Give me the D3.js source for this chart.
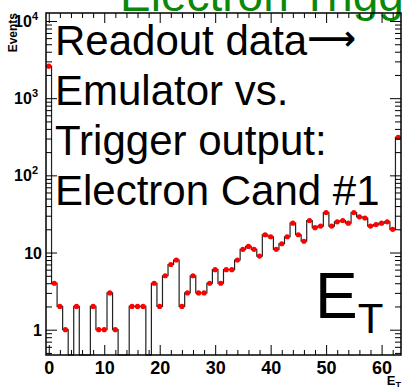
<!DOCTYPE html>
<html>
<head>
<meta charset="utf-8">
<script src="https://cdn.jsdelivr.net/npm/d3@7"></script>
<style>
    body { margin: 0; background: #fff; }
    text { font-family: "Liberation Sans", Arial, Helvetica, sans-serif; }
</style>
</head>
<body>
<div class="graph"></div>
<script>
// Contenido de cada bin de E_T (bins 0..63)
const cuentas = [2600, 4, 2, 1, 0, 2, 0, 0, 2, 1,
    1, 3, 1, 0, 0, 2, 2, 2, 0, 4,
    2, 5, 7, 8, 2, 3, 5, 3, 3, 4,
    6, 4, 6, 6, 8, 11, 12, 11, 9, 17,
    16, 11, 13, 16, 24, 17, 14, 26, 21, 22,
    33, 22, 25, 26, 24, 33, 29, 28, 22, 23,
    24, 25, 20, 310];

// Ticks de los ejes
const xMayores = [0, 10, 20, 30, 40, 50, 60];
const xMenores = [2, 4, 6, 8, 12, 14, 16, 18, 22, 24, 26, 28, 32, 34, 36, 38, 42, 44, 46, 48, 52, 54, 56, 58, 62];
const yMayores = [1, 10, 100, 1000, 10000];
const yEtiquetas = ["1", "10", "10|2", "10|3", "10|4"];

// Texto
const titulo = "Electron Trigger";
const lineasTexto = ["Readout data", "Emulator vs.", "Trigger output:", "Electron Cand #1"];

const width = 404;
const height = 387;
const izq = 46, der = 401, arriba = 13, abajo = 355;

const svg = d3.select(".graph")
    .append("svg")
    .attr("width", width)
    .attr("height", height);

svg.append("rect").attr("width", width).attr("height", height).attr("fill", "#fff");

// Escalas
const xScale = d3.scaleLinear().domain([-0.5, 63.5]).range([izq, der]);
const yScale = d3.scaleLog().domain([0.47, 12700]).range([abajo, arriba]);

// Ticks menores del eje log (2..9 en cada década)
const yMenores = [];
[0.1, 1, 10, 100, 1000, 10000].forEach(function (d) {
    for (let k = 2; k <= 9; k++) {
        const v = d * k;
        if (v > 0.47 && v < 12700) yMenores.push(v);
    }
});

// Título verde (recortado arriba)
svg.append("text")
    .attr("x", 120)
    .attr("y", 11)
    .attr("font-size", 46)
    .attr("fill", "#0a880a")
    .text(titulo);

// Histograma en escalones
const g = svg.append("g");
let d = "M" + xScale(-0.5) + "," + (cuentas[0] > 0 ? yScale(cuentas[0]) : abajo);
cuentas.forEach(function (c, i) {
    const yv = c > 0 ? yScale(c) : abajo;
    if (i > 0) d += "V" + yv;
    d += "H" + xScale(i + 0.5);
});
g.append("path")
    .attr("d", d)
    .attr("fill", "none")
    .attr("stroke", "#222")
    .attr("stroke-width", 1.2);

g.selectAll("circle")
    .data(cuentas.map((c, i) => ({ x: i, y: c })).filter(p => p.y > 0))
    .enter()
    .append("circle")
    .attr("cx", p => xScale(p.x))
    .attr("cy", p => yScale(p.y))
    .attr("r", 2.6)
    .attr("fill", "#ff0000");

// Ejes: ticks hacia dentro, como en ROOT
function ejeX(gen, y, valores, largo, etiquetas) {
    const a = svg.append("g")
        .attr("transform", "translate(0," + y + ")")
        .call(gen(xScale).tickValues(valores).tickSizeInner(-largo).tickSizeOuter(0)
            .tickPadding(6).tickFormat(etiquetas ? d3.format("d") : ""));
    a.select(".domain").remove();
    a.selectAll("line").attr("stroke", "#000");
    return a;
}
function ejeY(gen, x, valores, largo) {
    const a = svg.append("g")
        .attr("transform", "translate(" + x + ",0)")
        .call(gen(yScale).tickValues(valores).tickSizeInner(-largo).tickSizeOuter(0).tickFormat(""));
    a.select(".domain").remove();
    a.selectAll("line").attr("stroke", "#000");
    return a;
}

const ejeAbajo = ejeX(d3.axisBottom, abajo, xMayores, 10, true);
ejeX(d3.axisBottom, abajo, xMenores, 5, false);
ejeX(d3.axisTop, arriba, xMayores, 10, false);
ejeX(d3.axisTop, arriba, xMenores, 5, false);
ejeY(d3.axisLeft, izq, yMayores, 11);
ejeY(d3.axisLeft, izq, yMenores, 6);
ejeY(d3.axisRight, der, yMayores, 11);
ejeY(d3.axisRight, der, yMenores, 6);

ejeAbajo.selectAll("text")
    .attr("font-size", 18)
    .attr("font-weight", "bold")
    .attr("fill", "#000")
    .attr("font-family", "Liberation Sans, Arial, sans-serif");

// Etiquetas del eje Y con exponentes
yMayores.forEach(function (v, i) {
    const partes = yEtiquetas[i].split("|");
    const t = svg.append("text")
        .attr("x", partes.length > 1 ? 38 : 42)
        .attr("y", yScale(v) + 6)
        .attr("text-anchor", "end")
        .attr("font-size", 16)
        .attr("font-weight", "bold");
    t.append("tspan").text(partes[0]);
    if (partes.length > 1) {
        t.append("tspan").attr("dy", -7).attr("font-size", 11).text(partes[1]);
    }
});

// Marco
svg.append("rect")
    .attr("x", izq).attr("y", arriba)
    .attr("width", der - izq).attr("height", abajo - arriba)
    .attr("fill", "none")
    .attr("stroke", "#000")
    .attr("stroke-width", 1.5);

// Títulos de los ejes
svg.append("text")
    .attr("transform", "translate(17," + arriba + ") rotate(-90)")
    .attr("text-anchor", "end")
    .attr("font-size", 12)
    .attr("font-weight", "bold")
    .text("Events");

const xt = svg.append("text")
    .attr("x", 401)
    .attr("y", 385)
    .attr("text-anchor", "end")
    .attr("font-size", 13)
    .attr("font-weight", "bold");
xt.append("tspan").text("E");
xt.append("tspan").attr("dy", 3).attr("font-size", 9).text("T");

// Texto grande
lineasTexto.forEach(function (l, i) {
    const t = svg.append("text")
        .attr("x", 55)
        .attr("y", 55 + i * 50)
        .attr("font-size", 42)
        .attr("fill", "#000")
        .text(l);
    if (i === 0) {
        t.append("tspan")
            .attr("font-family", "DejaVu Sans")
            .attr("font-size", 34)
            .attr("font-weight", "bold")
            .attr("dy", -5)
            .text("\u27F6");
    }
});

const et = svg.append("text")
    .attr("x", 315)
    .attr("y", 318)
    .attr("font-size", 64);
et.append("tspan").text("E");
et.append("tspan").attr("dy", 15).attr("font-size", 42).text("T");
</script>
</body>
</html>
